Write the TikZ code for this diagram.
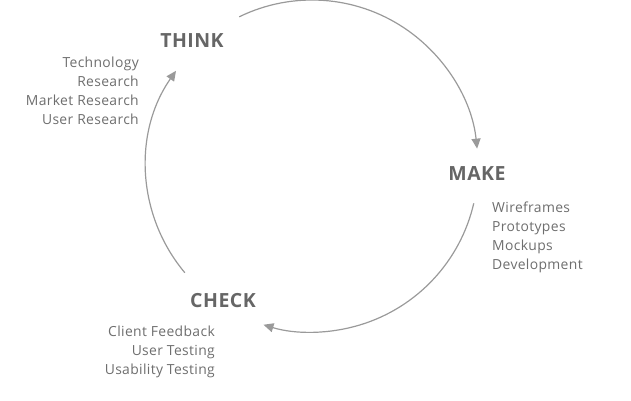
\documentclass[tikz,border=0pt]{standalone}
\usepackage{fontspec}
\setmainfont{Open Sans}[LetterSpace=2.5]
\usetikzlibrary{arrows.meta}
\definecolor{headgray}{HTML}{666666}
\definecolor{textgray}{HTML}{6E6E6E}
\definecolor{arcgray}{HTML}{9A9A9A}
\begin{document}
\begin{tikzpicture}[x=1pt,y=-1pt,
  phase/.style={font=\fontsize{19.5}{22}\selectfont\bfseries, text=headgray, inner sep=0pt},
  items/.style={font=\fontsize{13.9}{19}\selectfont, text=textgray, inner sep=0pt, align=#1},
  cyclearc/.style={draw=arcgray, line width=1.2pt, -{Triangle[length=10pt,width=9pt]}}]
\useasboundingbox (0,0) rectangle (631,400);
\coordinate (O) at (312,166);

% phase titles
\node[phase] (think) at (192,41) {THINK};
\node[phase] (make)  at (477,174) {MAKE};
\node[phase] (check) at (223,301) {CHECK};

% activity lists
\node[items=right, anchor=north east] (thinklist) at (139,57)
  {Technology\\Research\\Market Research\\User Research};
\node[items=left, anchor=north west] (makelist) at (492,201.5)
  {Wireframes\\Prototypes\\Mockups\\Development};
\node[items=right, anchor=north east] (checklist) at (215,325.5)
  {Client Feedback\\User Testing\\Usability Testing};

% cycle arrows on a common circle (y grows downward, so angles run clockwise)
\draw[cyclearc] ([shift={(-116:166)}]O) arc[start angle=-116, end angle=-6, radius=166];
\draw[cyclearc] ([shift={(13:166)}]O) arc[start angle=13, end angle=107, radius=166];
\draw[cyclearc] ([shift={(140:166)}]O) arc[start angle=140, end angle=215, radius=166];
\end{tikzpicture}
\end{document}
